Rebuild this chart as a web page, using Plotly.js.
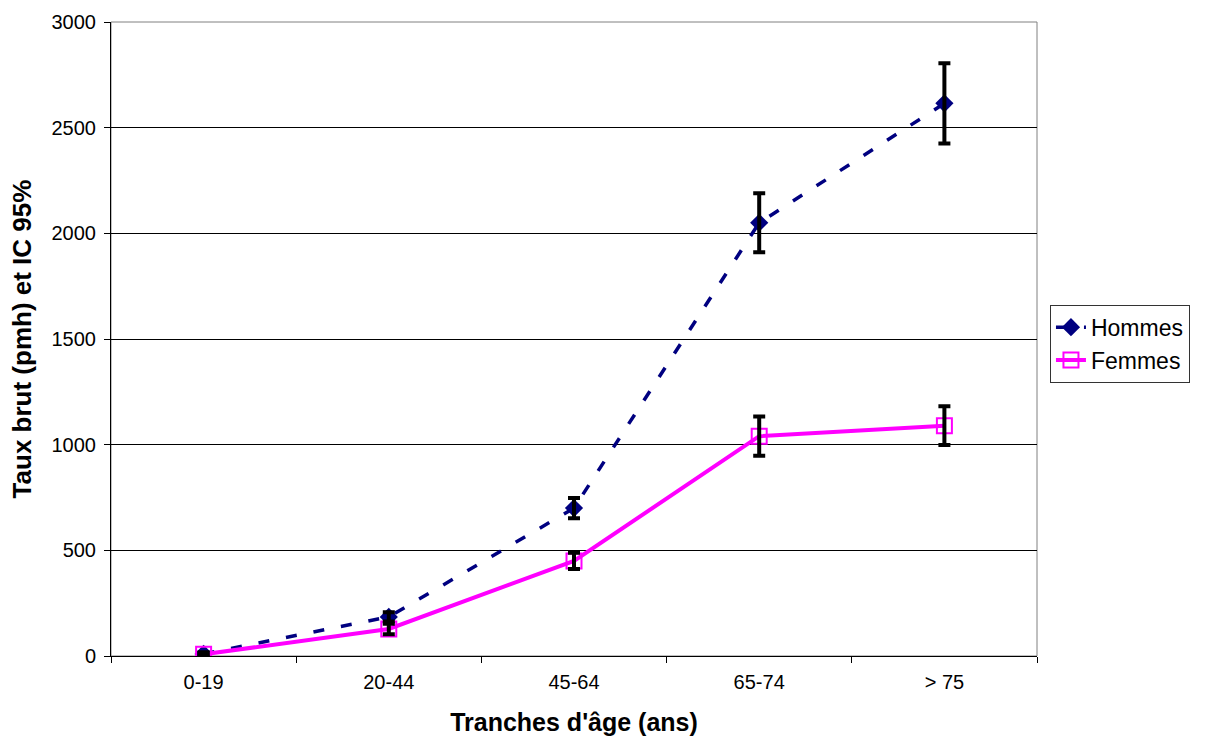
<!DOCTYPE html>
<html>
<head>
<meta charset="utf-8">
<script src="https://cdn.plot.ly/plotly-3.0.1.min.js"></script>
<style>html,body{margin:0;padding:0;background:#fff;}#chart{width:1218px;height:736px;}</style>
</head>
<body>
<div id="chart"></div>
<script>
const categories = ["0-19", "20-44", "45-64", "65-74", "> 75"];
const hommes = [10, 185, 700, 2050, 2615];
const hommesErr = [8, 22, 48, 140, 190];
const femmes = [8, 128, 450, 1040, 1090];
const femmesErr = [6, 25, 38, 93, 92];

const FONT = "Liberation Sans, Arial, sans-serif";

const data = [
  {
    x: categories, y: hommes, name: "Hommes", type: "scatter", mode: "lines+markers",
    line: {color: "#000080", width: 3.5, dash: "11px,17px"},
    marker: {symbol: "diamond", size: 14, color: "#000080"}
  },
  {
    x: categories, y: femmes, name: "Femmes", type: "scatter", mode: "lines+markers",
    line: {color: "#FF00FF", width: 4},
    marker: {symbol: "square-open", size: 15, color: "#FF00FF", line: {width: 2, color: "#FF00FF"}}
  },
  {
    x: categories, y: hommes, type: "scatter", mode: "markers", showlegend: false, hoverinfo: "skip",
    marker: {size: 1, opacity: 0},
    error_y: {type: "data", array: hommesErr, visible: true, color: "#000000", thickness: 4, width: 6}
  },
  {
    x: categories, y: femmes, type: "scatter", mode: "markers", showlegend: false, hoverinfo: "skip",
    marker: {size: 1, opacity: 0},
    error_y: {type: "data", array: femmesErr, visible: true, color: "#000000", thickness: 4, width: 6}
  }
];

const layout = {
  width: 1218, height: 736,
  margin: {l: 111, r: 181, t: 22, b: 80},
  paper_bgcolor: "#ffffff", plot_bgcolor: "#ffffff",
  font: {family: FONT, color: "#000000", size: 20},
  showlegend: true,
  legend: {
    x: 1.014, xanchor: "left", y: 0.554, yanchor: "top",
    bordercolor: "#333333", borderwidth: 1, bgcolor: "#ffffff",
    font: {family: FONT, size: 23, color: "#000000"},
    tracegroupgap: 0, itemwidth: 30
  },
  xaxis: {
    type: "category",
    title: {text: "Tranches d'âge (ans)", font: {family: FONT, size: 25, color: "#000", weight: "bold"}, standoff: 22},
    showline: true, linecolor: "#000000", linewidth: 1, mirror: false,
    ticks: "outside", ticklen: 6, tickcolor: "#000000", tickson: "boundaries",
    ticklabelstandoff: 8,
    showgrid: false, zeroline: false,
    tickfont: {family: FONT, size: 20, color: "#000"},
    range: [-0.5, 4.5]
  },
  yaxis: {
    title: {text: "Taux brut (pmh) et IC 95%", font: {family: FONT, size: 26, color: "#000", weight: "bold"}, standoff: 12},
    range: [0, 3000], dtick: 500, tick0: 0,
    showline: true, linecolor: "#000000", linewidth: 1,
    ticks: "outside", ticklen: 6, tickcolor: "#000000",
    ticklabelstandoff: 4,
    showgrid: true, gridcolor: "#000000", gridwidth: 1, zeroline: false,
    tickfont: {family: FONT, size: 20, color: "#000"}
  },
  shapes: [
    {type: "rect", xref: "paper", yref: "paper", x0: 0, x1: 1, y0: 0, y1: 1,
     line: {color: "#808080", width: 1}, layer: "below"}
  ]
};

Plotly.newPlot("chart", data, layout, {displayModeBar: false, staticPlot: true});
</script>
</body>
</html>
